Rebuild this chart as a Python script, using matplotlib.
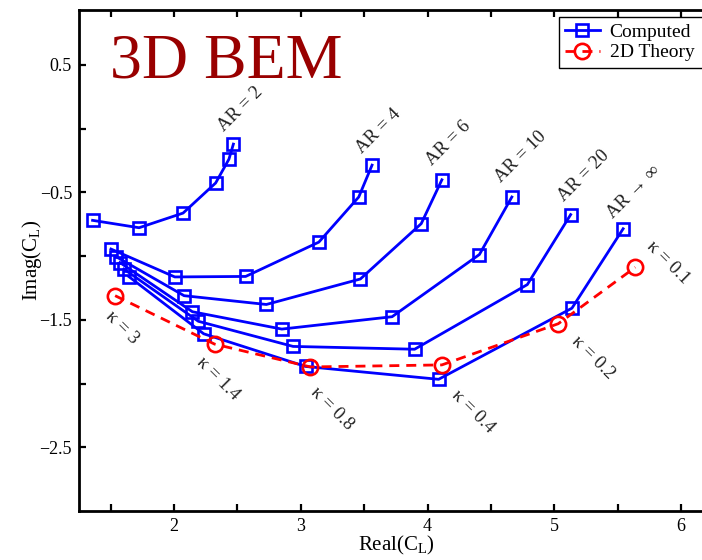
import matplotlib
matplotlib.use("Agg")
import matplotlib.pyplot as plt
from matplotlib.ticker import FixedLocator, FixedFormatter

plt.rcParams['font.family'] = ['Liberation Serif', 'DejaVu Serif']
plt.rcParams['mathtext.fontset'] = 'custom'
plt.rcParams['mathtext.rm'] = 'Liberation Serif'
plt.rcParams['mathtext.it'] = 'Liberation Serif:italic'

# Lift coefficient C_L for a heaving/pitching wing, reduced frequencies
# kappa = 3, 1.4, 0.8, 0.4, 0.2, 0.1 along each curve
kappa_labels = ["κ = 3", "κ = 1.4", "κ = 0.8", "κ = 0.4", "κ = 0.2", "κ = 0.1"]

ar_names = ["AR = 2", "AR = 4", "AR = 6", "AR = 10", "AR = 20", "AR → ∞"]

re_ar2 = [1.357, 1.724, 2.071, 2.328, 2.433, 2.468]
im_ar2 = [-0.720, -0.778, -0.663, -0.427, -0.240, -0.122]

re_ar4 = [1.502, 2.006, 2.565, 3.142, 3.457, 3.562]
im_ar4 = [-0.945, -1.164, -1.160, -0.891, -0.537, -0.287]

re_ar6 = [1.541, 2.079, 2.728, 3.470, 3.950, 4.113]
im_ar6 = [-1.004, -1.311, -1.380, -1.180, -0.746, -0.402]

re_ar10 = [1.573, 2.145, 2.850, 3.720, 4.409, 4.665]
im_ar10 = [-1.051, -1.437, -1.573, -1.476, -0.988, -0.537]

re_ar20 = [1.604, 2.192, 2.939, 3.898, 4.787, 5.129]
im_ar20 = [-1.102, -1.512, -1.709, -1.731, -1.224, -0.675]

re_arinf = [1.643, 2.234, 3.037, 4.087, 5.139, 5.543]
im_arinf = [-1.161, -1.610, -1.866, -1.967, -1.409, -0.786]

re_theory = [1.535, 2.320, 3.076, 4.113, 5.031, 5.639]
im_theory = [-1.311, -1.691, -1.870, -1.854, -1.531, -1.088]

# label anchor points (data coordinates)
ar_label_x = [2.525, 3.612, 4.163, 4.738, 5.234, 5.628]
ar_label_y = [0.153, -0.020, -0.114, -0.224, -0.374, -0.500]
kappa_label_x = [1.589, 2.345, 3.242, 4.361, 5.306, 5.896]
kappa_label_y = [-1.563, -1.965, -2.193, -2.217, -1.799, -1.051]

x_ticks = [1.5, 2.0, 2.5, 3.0, 3.5, 4.0, 4.5, 5.0, 5.5, 6.0]
x_tick_labels = ["", "2", "", "3", "", "4", "", "5", "", "6"]
y_ticks = [0.5, 0.0, -0.5, -1.0, -1.5, -2.0, -2.5]
y_tick_labels = ["0.5", "", "\u22120.5", "", "\u22121.5", "", "\u22122.5"]

W, H, DPI = 702, 560, 100
fig = plt.figure(figsize=(W / DPI, H / DPI), dpi=DPI)
left_px, right_px, top_px, bottom_px = 79, 712.75, 10, 511
ax = fig.add_axes([left_px / W, 1 - bottom_px / H,
                   (right_px - left_px) / W, (bottom_px - top_px) / H])

blue = '#0000ff'
red = '#ff0000'
computed = [(re_ar2, im_ar2), (re_ar4, im_ar4), (re_ar6, im_ar6),
            (re_ar10, im_ar10), (re_ar20, im_ar20), (re_arinf, im_arinf)]
for i, (xr, yi) in enumerate(computed):
    ax.plot(xr, yi, '-s', color=blue, lw=2.0, ms=8.5, mew=1.9,
            mfc='none', mec=blue, label='Computed' if i == 0 else None,
            zorder=2)

ax.plot(re_theory, im_theory, '--o', color=red, lw=2.0, ms=11, mew=1.9,
        mfc='none', mec=red, dashes=(3.6, 2.5), label='2D Theory', zorder=3)

for name, x, y in zip(ar_names, ar_label_x, ar_label_y):
    ax.text(x, y, name, rotation=45, rotation_mode='anchor', ha='center',
            va='center', fontsize=13.5, color='#222222')
for name, x, y in zip(kappa_labels, kappa_label_x, kappa_label_y):
    ax.text(x, y, name, rotation=-45, rotation_mode='anchor', ha='center',
            va='center', fontsize=13.5, color='#222222')

ax.set_xlim(1.25, 6.25)
ax.set_ylim(-3.0, 0.93)
ax.xaxis.set_major_locator(FixedLocator(x_ticks))
ax.xaxis.set_major_formatter(FixedFormatter(x_tick_labels))
ax.yaxis.set_major_locator(FixedLocator(y_ticks))
ax.yaxis.set_major_formatter(FixedFormatter(y_tick_labels))
ax.tick_params(direction='in', top=True, right=True, length=5, width=1.6,
               labelsize=13, pad=5, colors='black')
for s in ax.spines.values():
    s.set_linewidth(2.0)

ax.set_xlabel('Real(C$_\\mathrm{L}$)', fontsize=15)
ax.xaxis.label.set_va('baseline')
ax.xaxis.set_label_coords(0.5, -39 / (bottom_px - top_px))
ax.set_ylabel('Imag(C$_\\mathrm{L}$)', fontsize=15)
ax.yaxis.label.set_va('baseline')
ax.yaxis.set_label_coords(-(left_px - 37) / (right_px - left_px), 0.5)

fig.text(110 / W, 1 - 78 / H, '3D BEM', fontsize=46, color='#990000',
         ha='left', va='baseline')

# legend box runs past the right edge of the figure
leg = ax.legend(loc='upper left',
                bbox_to_anchor=(558.7 / W, 0, (712 - 558.7) / W, 1 - 17 / H),
                bbox_transform=fig.transFigure, mode='expand', fontsize=14,
                frameon=True, fancybox=False, framealpha=1,
                edgecolor='black', borderaxespad=0, borderpad=0.32,
                labelspacing=0.15, handlelength=1.8, handletextpad=0.5)
leg.get_frame().set_linewidth(1.0)

fig.savefig('out.png', dpi=DPI)
